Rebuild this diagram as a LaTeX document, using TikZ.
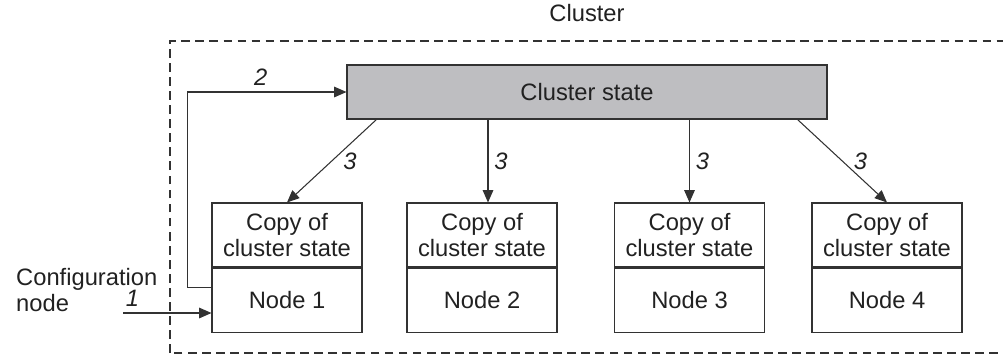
\documentclass[tikz,border=0pt]{standalone}
\usepackage{fontspec}
\setmainfont{Liberation Sans}
\usetikzlibrary{arrows.meta,positioning}
\definecolor{edgegray}{RGB}{50,50,50}
\definecolor{stategray}{RGB}{190,190,193}
\tikzset{
	box/.style={draw=edgegray, line width=0.6pt, minimum width=3cm, minimum height=1.28cm, inner sep=0pt, align=center},
	arr/.style={draw=edgegray, line width=0.6pt, -{Triangle[length=7pt,width=6pt]}},
	num/.style={font=\fontsize{13.5}{14.8}\selectfont\itshape}
}
\newcommand{\NodeBox}[3]{%
	\node[box] (c#1) at (#2,2.42) {Copy of\\cluster state};
	\node[box, below=0pt of c#1] (n#1) {#3};}

\begin{document}
\begin{tikzpicture}[font=\fontsize{13.5}{14.8}\selectfont, text=black!87]
\useasboundingbox (0,0) rectangle (20.06,7.12);
	\draw[edgegray, dashed, dash pattern=on 5pt off 3pt, line width=0.6pt] (3.4,0.06) rectangle (20.2,6.3);
	\node (cl) at (11.74,6.86) {Cluster};
	
	\node[draw=edgegray, line width=0.6pt, fill=stategray, minimum width=9.6cm, minimum height=1.08cm] (cs) at (11.74,5.28) {Cluster state};
	
	\NodeBox{1}{5.74}{Node 1}
	\NodeBox{2}{9.64}{Node 2}
	\NodeBox{3}{13.79}{Node 3}
	\NodeBox{4}{17.74}{Node 4}
	
	\node[align=left, anchor=west] (cfg) at (0.2,1.32) {Configuration\\node};
	\coordinate (cfgout) at (2.46,0.86);
	
	\draw[arr] (cfgout) node[num, above right=0pt and -2pt] (one) {1} -- (n1.west |- cfgout);
	\draw[arr] ([yshift=0.26cm]n1.west) -- ++(-0.48,0) |- (cs.west) node[num, pos=0.73, above] (two) {2};
	
	\draw[arr] ([xshift=0.6cm]cs.south west) -- (c1.north) node[num, midway, right=3pt] {3};
	\draw[arr] ([xshift=0.12cm]c2.north |- cs.south) -- ([xshift=0.12cm]c2.north) node[num, midway, right] {3};
	\draw[arr] (c3.north |- cs.south) -- (c3.north) node[num, midway, right] {3};
	\draw[arr] ([xshift=-0.6cm]cs.south east) -- (c4.north) node[num, midway, right=3pt] {3};

\end{tikzpicture}
\end{document}
